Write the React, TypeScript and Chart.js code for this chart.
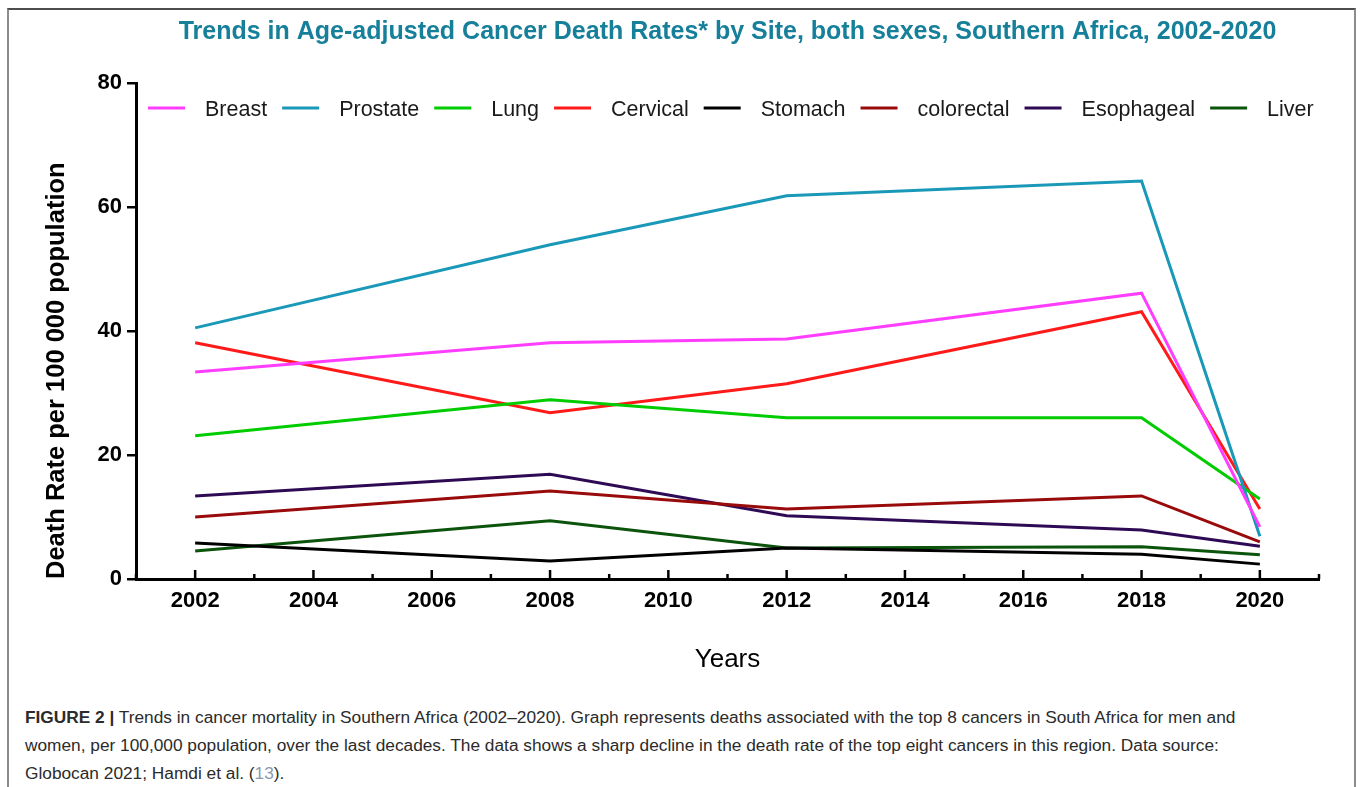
import React, { useEffect, useRef } from "react";
import { Chart, registerables } from "chart.js";

Chart.register(...registerables);

const titleText =
  "Trends in Age-adjusted Cancer Death Rates* by Site, both sexes, Southern Africa, 2002-2020";
const years = [2002, 2008, 2012, 2018, 2020];
const xTickLabels = [2002, 2004, 2006, 2008, 2010, 2012, 2014, 2016, 2018, 2020];
const seriesNames = ["Breast", "Prostate", "Lung", "Cervical", "Stomach", "colorectal", "Esophageal", "Liver"];
const breast = [33.4, 38.1, 38.7, 46.1, 8.4];
const prostate = [40.5, 53.9, 61.8, 64.2, 6.9];
const lung = [23.1, 28.9, 26.0, 26.0, 12.9];
const cervical = [38.1, 26.8, 31.5, 43.1, 11.3];
const stomach = [5.8, 2.9, 5.0, 4.0, 2.4];
const colorectal = [10.0, 14.2, 11.3, 13.4, 6.0];
const esophageal = [13.4, 16.9, 10.2, 7.9, 5.3];
const liver = [4.5, 9.4, 5.0, 5.2, 3.9];
const seriesValues = [breast, prostate, lung, cervical, stomach, colorectal, esophageal, liver];
const seriesColors = ["#ff3dff", "#1a98b8", "#00cc00", "#ff1a1a", "#000000", "#990a0a", "#2e0a55", "#0b540b"];
const xMin = 2001;
const xMax = 2021;
const yMin = 0;
const yMax = 80;
const yStep = 20;

const FONT = '"Liberation Sans", Arial, Helvetica, sans-serif';

const insideLegend = {
  id: "insideLegend",
  afterDraw(chart: any) {
    const { ctx, chartArea } = chart;
    ctx.save();
    ctx.font = `21.5px ${FONT}`;
    ctx.textBaseline = "middle";
    let x = chartArea.left + 12;
    const y = chartArea.top + 25;
    chart.data.datasets.forEach((ds: any) => {
      ctx.strokeStyle = ds.borderColor;
      ctx.lineWidth = 3;
      ctx.beginPath();
      ctx.moveTo(x, y);
      ctx.lineTo(x + 37, y);
      ctx.stroke();
      ctx.fillStyle = "#1a1a1a";
      ctx.fillText(ds.label, x + 57, y + 2);
      x += 57 + ctx.measureText(ds.label).width + 15;
    });
    ctx.restore();
  },
};

const innerTicks = {
  id: "innerTicks",
  afterDraw(chart: any) {
    const xs = chart.scales.x;
    const { ctx, chartArea } = chart;
    ctx.save();
    ctx.strokeStyle = "#000";
    ctx.lineWidth = 2.5;
    for (let v = Math.ceil(xs.min); v <= xs.max; v++) {
      const px = xs.getPixelForValue(v);
      const len = v % 2 === 0 ? 9 : 5;
      ctx.beginPath();
      ctx.moveTo(px, chartArea.bottom);
      ctx.lineTo(px, chartArea.bottom - len);
      ctx.stroke();
    }
    ctx.restore();
  },
};

export default function App() {
  const ref = useRef<HTMLCanvasElement | null>(null);

  useEffect(() => {
    if (!ref.current) return;
    Chart.defaults.font.family = FONT;
    const chart = new Chart(ref.current, {
      type: "line",
      data: {
        datasets: seriesNames.map((name, i) => ({
          label: name,
          data: years.map((yr, j) => ({ x: yr, y: seriesValues[i][j] })),
          borderColor: seriesColors[i],
          backgroundColor: seriesColors[i],
          borderWidth: 3,
          pointRadius: 0,
          tension: 0,
          fill: false,
        })),
      },
      options: {
        responsive: false,
        animation: false,
        layout: { padding: { left: 0, right: 35, top: 0, bottom: 0 } },
        plugins: {
          legend: { display: false },
          tooltip: { enabled: false },
          title: {
            display: true,
            text: titleText,
            fullSize: false,
            color: "#167f99",
            font: { size: 25, weight: "bold" },
            padding: { top: 7, bottom: 36 },
          },
        },
        scales: {
          x: {
            type: "linear",
            min: xMin,
            max: xMax,
            afterBuildTicks: (s: any) => {
              s.ticks = xTickLabels.map((v) => ({ value: v }));
            },
            ticks: {
              autoSkip: false,
              maxRotation: 0,
              color: "#000",
              font: { size: 22, weight: "bold" },
              padding: 9,
              callback: (v: any) => String(v),
            },
            grid: { display: true, drawOnChartArea: false, drawTicks: false },
            border: { display: true, color: "#000", width: 3 },
            title: {
              display: true,
              text: "Years",
              color: "#000",
              font: { size: 26 },
              padding: { top: 0, bottom: 14.4 },
            },
            afterFit: (s: any) => {
              s.height = 111;
            },
          },
          y: {
            min: yMin,
            max: yMax,
            ticks: {
              stepSize: yStep,
              color: "#000",
              font: { size: 22, weight: "bold" },
              padding: 5,
            },
            grid: { display: true, drawOnChartArea: false, drawTicks: true, tickLength: 9, lineWidth: 2.5, color: "#000" },
            border: { display: true, color: "#000", width: 3 },
            title: {
              display: true,
              text: "Death Rate per 100 000 population",
              align: "start",
              color: "#000",
              font: { size: 25.5, weight: "bold" },
              padding: { top: 32.7, bottom: 0 },
            },
            afterFit: (s: any) => {
              s.width = 127;
            },
          },
        },
      } as any,
      plugins: [insideLegend, innerTicks],
    });
    return () => chart.destroy();
  }, []);

  return (
    <>
      <style>{"html,body{margin:0;padding:0;overflow:hidden;background:#fff;}"}</style>
      <div
        style={{
          position: "relative",
          marginLeft: 7,
          marginTop: 8,
          width: 1345,
          height: 777,
          borderTop: "2px solid #4d4d4d",
          borderLeft: "2px solid #8c8c8c",
          borderRight: "2px solid #8c8c8c",
          overflow: "hidden",
        }}
      >
        <canvas ref={ref} width={1345} height={680} style={{ display: "block", width: 1345, height: 680 }} />
        <div
          style={{
            position: "absolute",
            left: 16,
            top: 693,
            fontFamily: FONT,
            fontSize: 17.3,
            lineHeight: "28px",
            color: "#2b2b2b",
            whiteSpace: "nowrap",
          }}
        >
          <b>FIGURE 2 |</b> Trends in cancer mortality in Southern Africa (2002–2020). Graph represents deaths associated with the top 8 cancers in South Africa for men and
          <br />
          women, per 100,000 population, over the last decades. The data shows a sharp decline in the death rate of the top eight cancers in this region. Data source:
          <br />
          Globocan 2021; Hamdi et al. (<span style={{ color: "#8a9ab0" }}>13</span>).
        </div>
      </div>
    </>
  );
}
